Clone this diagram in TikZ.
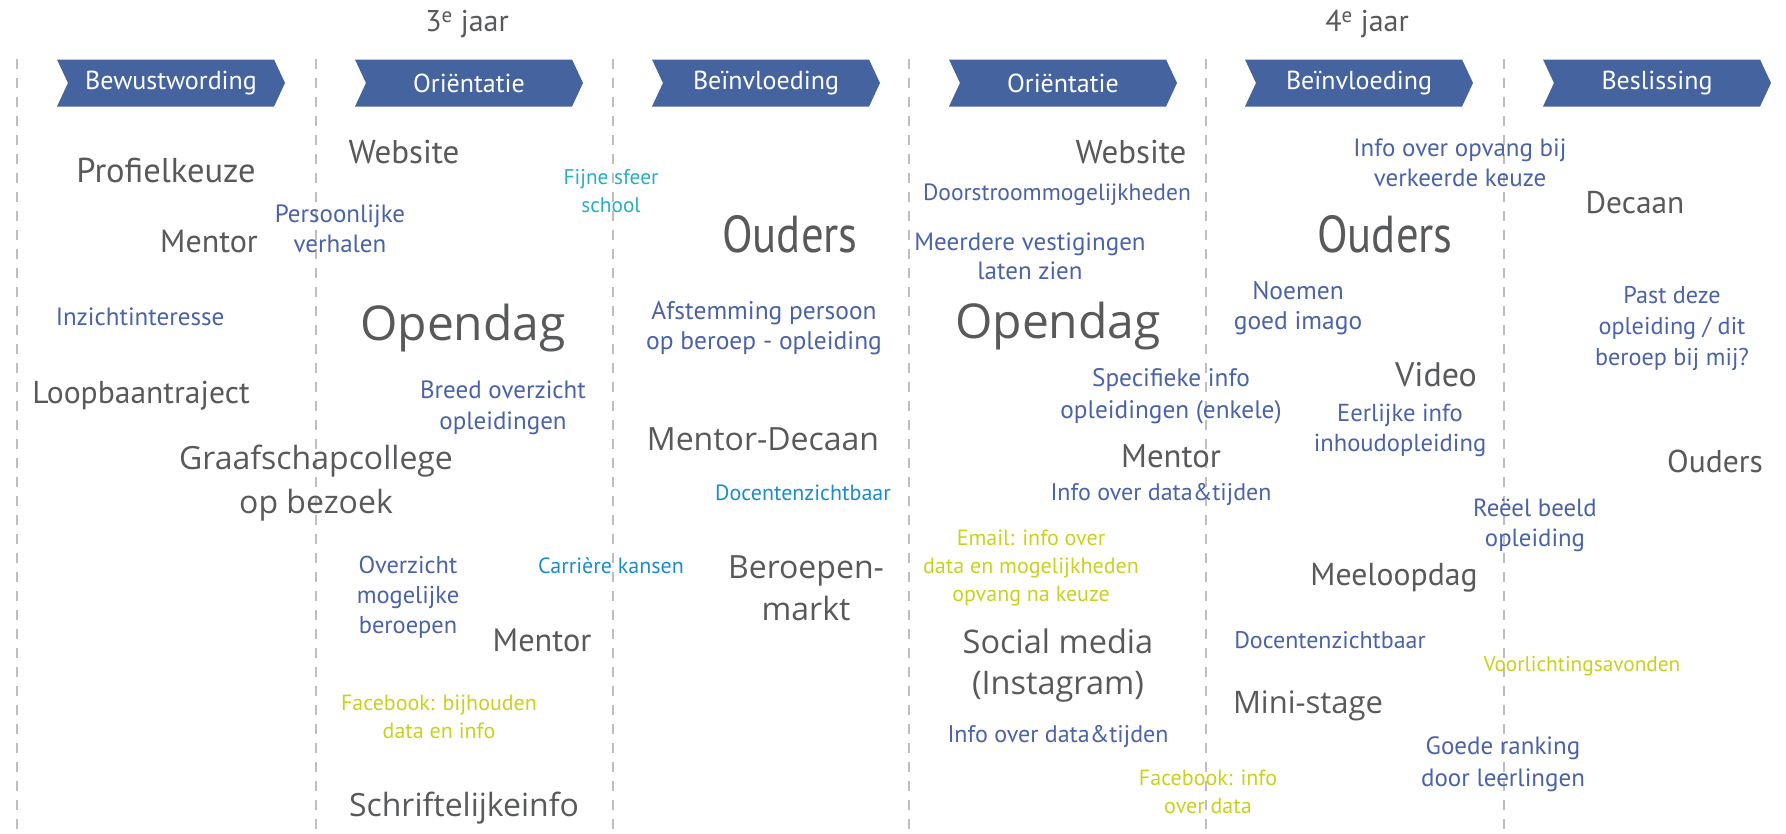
\documentclass[tikz,border=0pt]{standalone}
\usepackage{fontspec}
\setmainfont{PT Sans}
\newfontfamily\breed{Open Sans}
\newfontfamily\smal[FakeStretch=0.86]{PT Sans}
\usepackage{xcolor}
\usepackage{tikz}
\usetikzlibrary{shapes.symbols}

\definecolor{fasekleur}{RGB}{69,99,159}
\definecolor{tekstgrijs}{RGB}{88,89,91}
\definecolor{tekstblauw}{RGB}{74,98,166}
\definecolor{lichtblauw}{RGB}{27,141,200}
\definecolor{turkoois}{RGB}{40,175,190}
\definecolor{geelgroen}{RGB}{200,210,30}
\definecolor{lijngrijs}{RGB}{190,190,190}
\newcommand{\fsz}[2]{\fontsize{#1}{#2}\selectfont}

\begin{document}
\begin{tikzpicture}[x=1pt,y=-1pt,
    fase/.style={signal,signal to=east,signal from=west,signal pointer angle=130,
      fill=fasekleur,text=white,minimum width=228,minimum height=47,inner sep=0pt,
      font=\fsz{26}{26}},
    grijs/.style 2 args={text=tekstgrijs,align=center,inner sep=0pt,font=\fsz{#1}{#2}},
    smal/.style 2 args={text=tekstgrijs,align=center,inner sep=0pt,font={\smal\fsz{#1}{#2}}},
    breed/.style 2 args={text=tekstgrijs,align=center,inner sep=0pt,font={\breed\fsz{#1}{#2}}},
    blauw/.style 2 args={text=tekstblauw,align=center,inner sep=0pt,font=\fsz{#1}{#2}},
    lblauw/.style={text=lichtblauw,align=center,inner sep=0pt,font=\fsz{22}{28}},
    geel/.style={text=geelgroen,align=center,inner sep=0pt,font=\fsz{22}{28}},
    scheiding/.style={draw=lijngrijs,line width=1.8pt,dash pattern=on 10pt off 9pt}]
  \useasboundingbox (0,0) rectangle (1786,833);

  % scheidingslijnen tussen de fasen
  \foreach \x in {17,316,613,909,1206,1504}
    \draw[scheiding] (\x,59) -- (\x,833);

  % jaren
  \node[grijs={30}{30}] (jaar3) at (467,24) {3\textsuperscript{e} jaar};
  \node[grijs={30}{30}] (jaar4) at (1367,24) {4\textsuperscript{e} jaar};

  % fasen
  \node[fase] (bewust) at (171,83) {Bewustwording};
  \node[fase] (orient1) at (469,83) {Oriëntatie};
  \node[fase] (beinv1) at (766,83) {Beïnvloeding};
  \node[fase] (orient2) at (1063,83) {Oriëntatie};
  \node[fase] (beinv2) at (1359,83) {Beïnvloeding};
  \node[fase] (beslis) at (1657,83) {Beslissing};

  % bewustwording
  \node[grijs={34.5}{40}] (profiel) at (166,170) {Profielkeuze};
  \node[grijs={32}{40}] (mentor1) at (209,241) {Mentor};
  \node[blauw={25}{30}] (inzicht) at (140,317) {Inzichtinteresse};
  \node[grijs={31.6}{40}] (loopbaan) at (141,396) {Loopbaantraject};
  \node[breed={32}{44}] (graafschap) at (316,483) {Graafschapcollege\\op bezoek};

  % orientatie 3e jaar
  \node[grijs={33}{40}] (website1) at (404,152) {Website};
  \node[blauw={25}{30}] (verhalen) at (340,229) {Persoonlijke\\verhalen};
  \node[breed={48}{50}] (opendag1) at (463,328) {Opendag};
  \node[blauw={25}{31}] (breed) at (503,408) {Breed overzicht\\opleidingen};
  \node[blauw={24.4}{30}] (beroepen) at (408,597) {Overzicht\\mogelijke\\beroepen};
  \node[lblauw] (carriere) at (611,566) {Carrière kansen};
  \node[grijs={32.3}{40}] (mentor2) at (542,640) {Mentor};
  \node[geel] (facebook1) at (439,717) {Facebook: bijhouden\\data en info};
  \node[breed={32}{40}] (schriftelijk) at (464,808) {Schriftelijkeinfo};

  % beinvloeding 3e jaar
  \node[text=turkoois,align=center,inner sep=0pt,font=\fsz{21.3}{28}] (sfeer) at (611,191) {Fijne sfeer\\school};
  \node[smal={52}{56}] (ouders1) at (790,234) {Ouders};
  \node[blauw={25.5}{30}] (afstemming) at (764,328) {Afstemming persoon\\op beroep - opleiding};
  \node[breed={32}{40}] (mentordecaan) at (763,439) {Mentor-Decaan};
  \node[lblauw] (docenten1) at (803,493) {Docentenzichtbaar};
  \node[breed={32}{42}] (markt) at (806,588) {Beroepen-\\markt};

  % orientatie 4e jaar
  \node[grijs={33}{40}] (website2) at (1131,152) {Website};
  \node[blauw={23.5}{30}] (doorstroom) at (1057,195) {Doorstroommogelijkheden};
  \node[blauw={25}{29}] (vestigingen) at (1030,256) {Meerdere vestigingen\\laten zien};
  \node[breed={48}{50}] (opendag2) at (1058,326) {Opendag};
  \node[blauw={25.3}{32}] (specifiek) at (1171,396) {Specifieke info\\opleidingen (enkele)};
  \node[grijs={32.7}{40}] (mentor3) at (1171,456) {Mentor};
  \node[blauw={24}{28}] (data1) at (1161,494) {Info over data\&tijden};
  \node[geel] (email) at (1031,568) {Email: info over\\data en mogelijkheden\\opvang na keuze};
  \node[breed={32.5}{41}] (social) at (1058,666) {Social media\\(Instagram)};
  \node[blauw={24}{28}] (data2) at (1058,736) {Info over data\&tijden};
  \node[geel] (facebook2) at (1208,792) {Facebook: info\\over data};

  % beinvloeding 4e jaar
  \node[blauw={25}{30}] (opvang) at (1460,163) {Info over opvang bij\\verkeerde keuze};
  \node[smal={52}{56}] (ouders2) at (1385,234) {Ouders};
  \node[blauw={25.5}{30}] (imago) at (1298,308) {Noemen\\goed imago};
  \node[grijs={34}{40}] (video) at (1436,375) {Video};
  \node[blauw={24.6}{30}] (eerlijk) at (1400,430) {Eerlijke info\\inhoudopleiding};
  \node[blauw={24.8}{30}] (reeel) at (1535,525) {Reëel beeld\\opleiding};
  \node[grijs={31.7}{40}] (meeloop) at (1394,578) {Meeloopdag};
  \node[blauw={24}{28}] (docenten2) at (1330,640) {Docentenzichtbaar};
  \node[breed={31}{40}] (ministage) at (1308,706) {Mini-stage};
  \node[blauw={25}{32}] (ranking) at (1503,764) {Goede ranking\\door leerlingen};

  % beslissing
  \node[grijs={31.4}{40}] (decaan) at (1635,203) {Decaan};
  \node[blauw={24.2}{31}] (pastdeze) at (1672,328) {Past deze\\opleiding / dit\\beroep bij mij?};
  \node[grijs={31.6}{40}] (ouders3) at (1715,461) {Ouders};
  \node[geel,font=\fsz{21.3}{28}] (avonden) at (1582,666) {Voorlichtingsavonden};
\end{tikzpicture}
\end{document}
